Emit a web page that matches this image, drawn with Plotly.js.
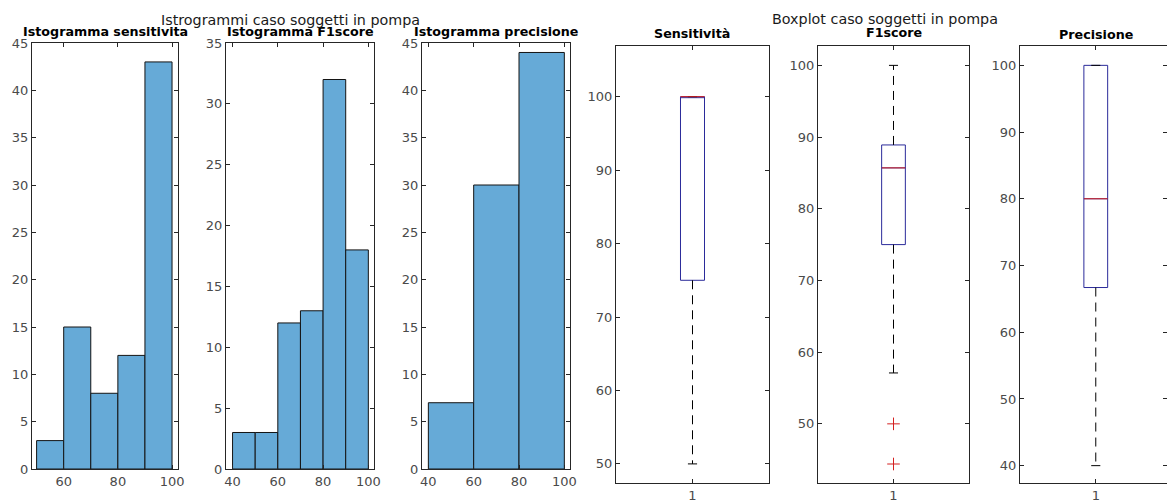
<!DOCTYPE html>
<html>
<head>
<meta charset="utf-8">
<script src="https://cdn.plot.ly/plotly-3.0.1.min.js"></script>
<style>html,body{margin:0;padding:0;background:#fff;}#chart{width:1167px;height:502px;}</style>
</head>
<body>
<div id="chart"></div>
<script>
// ---- Data ----
const mainTitleHist = 'Istrogrammi caso soggetti in pompa';
const mainTitleBox = 'Boxplot caso soggetti in pompa';
const histTitles = ['Istogramma sensitivita', 'Istogramma F1score', 'Istogramma precisione'];

const sensEdges = [50, 60, 70, 80, 90, 100];
const sensCounts = [3, 15, 8, 12, 43];
const f1Edges = [40, 50, 60, 70, 80, 90, 100];
const f1Counts = [3, 3, 12, 13, 32, 18];
const precEdges = [40, 60, 80, 100];
const precCounts = [7, 30, 44];

const boxLabels = ['Sensitività', 'F1score', 'Precisione'];
const boxCategory = ['1', '1', '1'];
const boxQ1 = [75, 75, 66.7];
const boxMedian = [100, 85.7, 80];
const boxQ3 = [100, 88.9, 100];
const boxLowerWhisker = [50, 57.1, 40];
const boxUpperWhisker = [100, 100, 100];
const boxOutliers = [[], [50, 44.4], []];

// ---- Layout helpers ----
const W = 1167, H = 502;
const px = v => v / W;
const py = v => 1 - v / H;

const FONT = 'DejaVu Sans, Liberation Sans, Arial, sans-serif';
const AX = '#262626';
const TICKC = '#4a4a4a';

function baseAxis(extra) {
  return Object.assign({
    showline: true, linecolor: AX, linewidth: 1, mirror: 'ticks',
    ticks: 'inside', ticklen: 4, tickcolor: AX, tickwidth: 1,
    showgrid: false, zeroline: false, fixedrange: true,
    tickfont: {family: FONT, size: 13, color: TICKC}
  }, extra);
}

const traces = [];
const layout = {
  width: W, height: H, margin: {l: 0, r: 0, t: 0, b: 0},
  paper_bgcolor: '#fff', plot_bgcolor: '#fff', showlegend: false,
  annotations: []
};

// ---- Histograms ----
const hists = [
  {edges: sensEdges, counts: sensCounts, dom: [32, 178], xr: [48.3, 102.2], yr: [0, 45], xt: [60, 80, 100], yt: [0,5,10,15,20,25,30,35,40,45]},
  {edges: f1Edges, counts: f1Counts, dom: [226, 374], xr: [37.1, 102.5], yr: [0, 35], xt: [40, 60, 80, 100], yt: [0,5,10,15,20,25,30,35]},
  {edges: precEdges, counts: precCounts, dom: [422, 570], xr: [37.2, 102.5], yr: [0, 45], xt: [40, 60, 80, 100], yt: [0,5,10,15,20,25,30,35,40,45]}
];

hists.forEach((h, i) => {
  const n = i + 1;
  const centers = h.counts.map((_, k) => (h.edges[k] + h.edges[k + 1]) / 2);
  const widths = h.counts.map((_, k) => h.edges[k + 1] - h.edges[k]);
  traces.push({
    type: 'bar', x: centers, y: h.counts, width: widths,
    xaxis: 'x' + n, yaxis: 'y' + n,
    marker: {color: '#66AAD7', line: {color: '#141414', width: 1}},
    hoverinfo: 'x+y'
  });
  layout['xaxis' + n] = baseAxis({domain: [px(h.dom[0]), px(h.dom[1])], range: h.xr, tickvals: h.xt, anchor: 'y' + n});
  layout['yaxis' + n] = baseAxis({domain: [py(469), py(43)], range: h.yr, tickvals: h.yt, anchor: 'x' + n});
  layout.annotations.push({
    xref: 'paper', yref: 'paper', x: px((h.dom[0] + h.dom[1]) / 2), y: py(32),
    xanchor: 'center', yanchor: 'middle', showarrow: false,
    text: histTitles[i], font: {family: FONT, size: 12.7, color: '#000', weight: 'bold'}
  });
});

// ---- Boxplots ----
const boxes = [
  {dom: [616, 769], xr: [0.5, 1.5], yr: [47.4, 106.9], yt: [50, 60, 70, 80, 90, 100], ty: 34},
  {dom: [818, 969], xr: [0.5, 1.5], yr: [41.75, 102.7], yt: [50, 60, 70, 80, 90, 100], ty: 33},
  {dom: [1020, 1167], xr: [0.5, 1.47], yr: [37.4, 102.9], yt: [40, 50, 60, 70, 80, 90, 100], ty: 35}
];
const BOXW = 0.157, CAPW = 0.03;
const BOXC = '#2b2b9a', MEDC = '#d42020';

boxes.forEach((b, i) => {
  const n = i + 4;
  const xa = 'x' + n, ya = 'y' + n;
  const xc = 1; // category position "1"
  // whiskers (dashed)
  traces.push({type: 'scatter', mode: 'lines', xaxis: xa, yaxis: ya, hoverinfo: 'skip',
    x: [xc, xc], y: [boxQ1[i], boxLowerWhisker[i]], line: {color: '#000', width: 1, dash: '9px,6px'}});
  traces.push({type: 'scatter', mode: 'lines', xaxis: xa, yaxis: ya, hoverinfo: 'skip',
    x: [xc, xc], y: [boxQ3[i], boxUpperWhisker[i]], line: {color: '#000', width: 1, dash: '9px,6px'}});
  // caps
  traces.push({type: 'scatter', mode: 'lines', xaxis: xa, yaxis: ya, hoverinfo: 'skip',
    x: [xc - CAPW, xc + CAPW, null, xc - CAPW, xc + CAPW],
    y: [boxLowerWhisker[i], boxLowerWhisker[i], null, boxUpperWhisker[i], boxUpperWhisker[i]],
    line: {color: '#000', width: 1}});
  // box
  traces.push({type: 'box', xaxis: xa, yaxis: ya, x: [xc],
    q1: [boxQ1[i]], median: [boxMedian[i]], q3: [boxQ3[i]],
    lowerfence: [boxQ1[i]], upperfence: [boxQ3[i]],
    width: BOXW, line: {color: BOXC, width: 1}, fillcolor: 'rgba(0,0,0,0)',
    boxpoints: false, whiskerwidth: 0, hoverinfo: 'skip'});
  // median
  traces.push({type: 'scatter', mode: 'lines', xaxis: xa, yaxis: ya, hoverinfo: 'skip',
    x: [xc - BOXW / 2, xc + BOXW / 2], y: [boxMedian[i], boxMedian[i]],
    line: {color: MEDC, width: 1}});
  // outliers
  if (boxOutliers[i].length) {
    traces.push({type: 'scatter', mode: 'markers', xaxis: xa, yaxis: ya,
      x: boxOutliers[i].map(() => xc), y: boxOutliers[i],
      marker: {symbol: 'cross-thin-open', size: 9, line: {color: MEDC, width: 1}, color: MEDC}});
  }
  layout['xaxis' + n] = baseAxis({domain: [px(b.dom[0]), px(b.dom[1])], range: b.xr, tickvals: [1], ticktext: [boxCategory[i]], anchor: ya});
  layout['yaxis' + n] = baseAxis({domain: [py(483), py(46)], range: b.yr, tickvals: b.yt, anchor: xa});
  layout.annotations.push({
    xref: 'paper', yref: 'paper', x: px(b.dom[0] + 76), y: py(b.ty),
    xanchor: 'center', yanchor: 'middle', showarrow: false,
    text: boxLabels[i], font: {family: FONT, size: 12.7, color: '#000', weight: 'bold'}
  });
});

// ---- Main titles ----
layout.annotations.push({xref: 'paper', yref: 'paper', x: px(290), y: py(20), xanchor: 'center', yanchor: 'middle',
  showarrow: false, text: mainTitleHist, font: {family: FONT, size: 14.3, color: '#1a1a1a'}});
layout.annotations.push({xref: 'paper', yref: 'paper', x: px(885), y: py(19), xanchor: 'center', yanchor: 'middle',
  showarrow: false, text: mainTitleBox, font: {family: FONT, size: 14.3, color: '#1a1a1a'}});

Plotly.newPlot('chart', traces, layout, {displayModeBar: false, staticPlot: true});
</script>
</body>
</html>
